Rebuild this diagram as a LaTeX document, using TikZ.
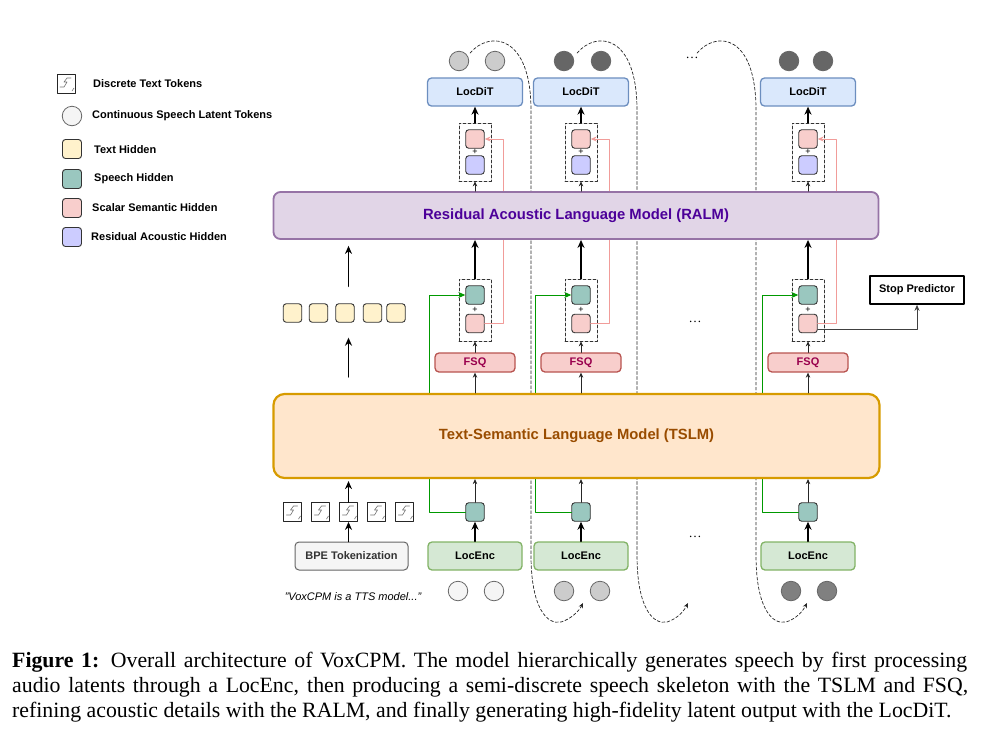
\documentclass[tikz,border=0pt]{standalone}
\usepackage{fontspec}
\setmainfont{Liberation Serif}
\setsansfont{Liberation Sans}
\usetikzlibrary{arrows.meta,calc}
\definecolor{latA}{HTML}{F5F5F5}
\definecolor{latB}{HTML}{CCCCCC}
\definecolor{latC}{HTML}{808080}
\definecolor{latD}{HTML}{666666}
\definecolor{txth}{HTML}{FFF2CC}
\definecolor{spch}{HTML}{9AC7BF}
\definecolor{semh}{HTML}{F8CECC}
\definecolor{acoh}{HTML}{CCCCFF}
\definecolor{ralmF}{HTML}{E1D5E7}
\definecolor{ralmD}{HTML}{9673A6}
\definecolor{ralmT}{HTML}{4C0099}
\definecolor{tslmF}{HTML}{FFE6CC}
\definecolor{tslmD}{HTML}{D79B00}
\definecolor{tslmT}{HTML}{994C00}
\definecolor{ditF}{HTML}{DAE8FC}
\definecolor{ditD}{HTML}{6C8EBF}
\definecolor{encF}{HTML}{D5E8D4}
\definecolor{encD}{HTML}{82B366}
\definecolor{fsqD}{HTML}{B85450}
\definecolor{fsqT}{HTML}{99004D}
\definecolor{pkln}{HTML}{F19C99}
\definecolor{gnln}{HTML}{009900}
\begin{document}
\begin{tikzpicture}[x=1pt, y=-1pt, font=\sffamily\bfseries\fontsize{11}{13}\selectfont, line join=round, line cap=round, >=Stealth,
hid/.style={draw=black!80, line width=0.9pt, rounded corners=3pt, minimum size=18.5pt, inner sep=0pt, fill=#1},
lat/.style={circle, draw=black!60, line width=0.8pt, minimum size=19.5pt, inner sep=0pt, fill=#1},
grp/.style={draw=black!80, densely dashed, line width=0.7pt, minimum width=32pt, minimum height=#1, inner sep=0pt},
blk/.style 2 args={draw=#1, fill=#2, line width=1.3pt, rounded corners=4pt, inner sep=0pt},
barr/.style={->, line width=1.5pt, >={Stealth[length=8pt,width=7pt]}},
sarr/.style={->, black!85, line width=0.8pt, >={Stealth[length=5pt,width=4.5pt]}},
recur/.style={->, densely dashed, line width=0.7pt, black!85, >={Stealth[length=5pt,width=4.5pt]}},
tok/.style={draw=black!85, line width=0.8pt, minimum width=18pt, minimum height=19pt, inner sep=0pt},
plus/.style={font=\sffamily\mdseries\fontsize{9}{9}\selectfont, inner sep=0pt},
dots/.style={font=\rmfamily\mdseries\fontsize{13}{13}\selectfont, inner sep=0pt},
capt/.style={anchor=base west, inner sep=0pt, font=\rmfamily\mdseries\fontsize{21.8}{25}\selectfont}]
\useasboundingbox (0,0) rectangle (991,732);
\foreach \a/\b/\t in {470/531/583,577/637/688,697/756/807}
  \draw[recur] (\a,53) .. controls ({\a+20},30) and (\b,35) .. (\b,110) -- (\b,555) .. controls (\b,608) and ({\b+16},625) .. ({\b+30},622) .. controls ({\b+40},619) and ({\t-4},611) .. (\t,603);
\foreach \c/\x/\tc/\bc/\p/\q in {1/475/latB/latA/16/20,2/581/latD/latB/17/20,3/808/latD/latC/19/15}{
  \node[lat=\tc] (ta\c) at ({\x-\p},61) {};
  \node[lat=\tc] (tb\c) at ({\x+\q},61) {};
  \node[blk={ditD}{ditF}, minimum width=95pt, minimum height=28pt] (dit\c) at (\x,92) {LocDiT};
  \node[grp=58pt] (ug\c) at (\x,152) {};
  \node[hid=semh] (up\c) at (\x,139) {};
  \node[hid=acoh] (ua\c) at (\x,165) {};
  \node[plus] (pu\c) at (\x,152) {+};
  \node[grp=62pt] (lg\c) at (\x,310) {};
  \node[hid=spch] (ls\c) at (\x,295) {};
  \node[hid=semh] (lp\c) at (\x,323.5) {};
  \node[plus] (pl\c) at (\x,309.5) {+};
  \node[blk={fsqD}{semh}, text=fsqT, minimum width=80pt, minimum height=19pt] (fsq\c) at (\x,362.5) {FSQ};
  \node[hid=spch] (bs\c) at (\x,512) {};
  \node[blk={encD}{encF}, minimum width=94pt, minimum height=28pt] (enc\c) at (\x,556) {LocEnc};
  \node[lat=\bc] (ba\c) at ({\x-17},591) {};
  \node[lat=\bc] (bb\c) at ({\x+19},591) {};
  \draw[pkln, line width=0.9pt, ->, >={Stealth[length=6pt,width=5pt]}] (lp\c.east) -- ++(19,0) |- (up\c.east);
  \draw[gnln, line width=0.9pt, ->, >={Stealth[length=7pt,width=6pt]}] (bs\c.west) -- ++(-36,0) |- (ls\c.west);
  \draw[barr] (ug\c.north) -- (dit\c.south);
  \draw[sarr] (fsq\c.north) -- (lg\c.south);
  \draw[barr] (enc\c.north) -- (bs\c.south);
}
\node[blk={ralmD}{ralmF}, line width=1.8pt, rounded corners=7pt, minimum width=605pt, minimum height=47pt, text=ralmT, font=\sffamily\bfseries\fontsize{14.8}{16}\selectfont] (ralm) at (576,215.5) {Residual Acoustic Language Model (RALM)};
\node[blk={tslmD}{tslmF}, line width=2.2pt, rounded corners=11pt, minimum width=606pt, minimum height=84pt, text=tslmT, font=\sffamily\bfseries\fontsize{14.8}{16}\selectfont] (tslm) at (576.5,436) {Text-Semantic Language Model (TSLM)};
\foreach \c in {1,2,3}{
  \draw[sarr] (ug\c.south |- ralm.north) -- (ug\c.south);
  \draw[barr] (lg\c.north) -- (lg\c.north |- ralm.south);
  \draw[sarr] (fsq\c.south |- tslm.north) -- (fsq\c.south);
  \draw[sarr] (bs\c.north) -- (bs\c.north |- tslm.south);
}
\node[draw=black, line width=1.6pt, fill=white, minimum width=94pt, minimum height=28pt, inner sep=0pt] (stop) at (917,290) {Stop Predictor};
\draw[black!75, line width=0.9pt, ->, >={Stealth[length=6pt,width=5pt]}] ([yshift=-6pt]lp3.east) -| (stop.south);
\node[dots] (dt1) at (692,58) {\dots};
\node[dots] (dt2) at (695,322) {\dots};
\node[dots] (dt3) at (695,537) {\dots};
\foreach \i/\x in {1/292.5,2/318.5,3/345,4/372.5,5/396}
  \node[hid=txth] (th\i) at (\x,313) {};
\foreach \i in {1,...,5}{
  \node[tok] (tk\i) at ({264.5+28*\i},512) {};
  \draw[black!55, line width=0.6pt] ([shift={(5,-6)}]tk\i.center) -- ++(-4,0) -- ++(-3,4) -- ++(3,0) -- ++(-3,5) -- ++(-4,0) ([shift={(6,7)}]tk\i.center) -- ++(2,-3);
}
\draw[barr, shorten <=16pt, shorten >=15pt] (tslm.north -| tk3) -- (th3.south -| tk3);
\draw[barr, shorten <=17pt, shorten >=6pt] (th3.north -| tk3) -- (ralm.south -| tk3);
\node[blk={black!60}{latA}, line width=1pt, minimum width=113pt, minimum height=28pt, text=black!80] (bpe) at (351.5,556) {BPE Tokenization};
\draw[barr] (bpe.north -| tk3) -- (tk3.south);
\draw[barr, shorten >=2pt] (tk3.north) -- (tk3.north |- tslm.south);
\node[font=\sffamily\mdseries\itshape\fontsize{11}{13}\selectfont] (quote) at (353,597) {"VoxCPM is a TTS model..."};
\node[tok] (lg0) at (66,84) {};
\draw[black!55, line width=0.6pt] ([shift={(5,-6)}]lg0.center) -- ++(-4,0) -- ++(-3,4) -- ++(3,0) -- ++(-3,5) -- ++(-4,0) ([shift={(6,7)}]lg0.center) -- ++(2,-3);
\node[lat=latA] (lgc) at (72,116) {};
\foreach \i/\y/\col in {1/149/txth,2/179/spch,3/208/semh,4/237/acoh}
  \node[hid=\col, minimum size=19pt] (lgs\i) at (72,\y) {};
\foreach \i/\x/\y/\txt in {0/93/84/Discrete Text Tokens,1/92/116/Continuous Speech Latent Tokens,2/94/150/Text Hidden,3/94/179/Speech Hidden,4/92/208/Scalar Semantic Hidden,5/91/237/Residual Acoustic Hidden}
  \node[anchor=west, inner sep=0pt] (lgt\i) at (\x,\y) {\txt};
\node[capt] (cap1) at (12,667) {\hbox to 955pt{\textbf{Figure 1:} Overall architecture of VoxCPM. The model hierarchically generates speech by first processing}};
\node[capt] (cap2) at (12,692) {\hbox to 956pt{audio latents through a LocEnc, then producing a semi-discrete speech skeleton with the TSLM and FSQ,}};
\node[capt] (cap3) at (12,717) {refining acoustic details with the RALM, and finally generating high-fidelity latent output with the LocDiT.};
\end{tikzpicture}
\end{document}
